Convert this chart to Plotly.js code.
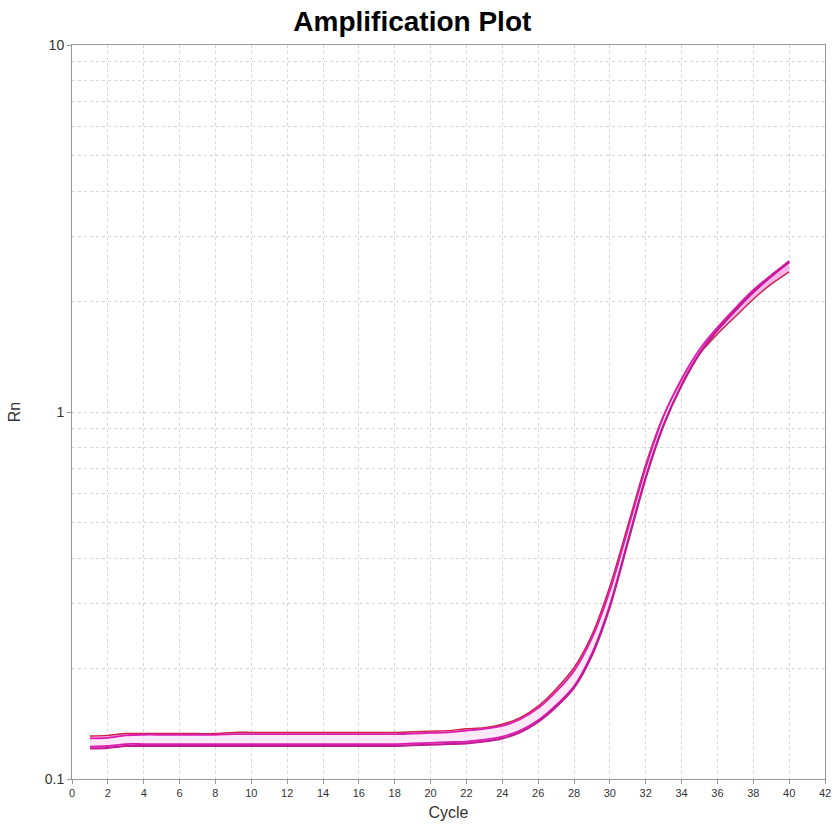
<!DOCTYPE html>
<html>
<head>
<meta charset="utf-8">
<script src="https://cdn.plot.ly/plotly-3.0.1.min.js"></script>
<style>html,body{margin:0;padding:0;background:#fff;}#chart{width:833px;height:834px;}</style>
</head>
<body>
<div id="chart"></div>
<script>
const cycles = [1,2,3,4,5,6,7,8,9,10,11,12,13,14,15,16,17,18,19,20,21,22,23,24,25,26,27,28,29,30,31,32,33,34,35,36,37,38,39,40];

const wellA = [0.131,0.1315,0.133,0.133,0.133,0.133,0.133,0.133,0.134,0.134,0.134,0.134,0.134,0.134,0.134,0.134,0.134,0.134,0.1345,0.135,0.1355,0.137,0.138,0.141,0.147,0.158,0.176,0.201,0.247,0.335,0.49,0.72,0.98,1.21,1.44,1.63,1.82,2.03,2.23,2.41];
const wellB = [0.129,0.1295,0.1315,0.132,0.132,0.132,0.132,0.132,0.1325,0.1325,0.1325,0.1325,0.1325,0.1325,0.1325,0.1325,0.1325,0.1325,0.133,0.1335,0.134,0.1355,0.137,0.1395,0.1455,0.156,0.173,0.197,0.242,0.326,0.478,0.705,0.975,1.23,1.48,1.70,1.92,2.15,2.36,2.57];
const wellC = [0.1225,0.123,0.1245,0.1245,0.1245,0.1245,0.1245,0.1245,0.1245,0.1245,0.1245,0.1245,0.1245,0.1245,0.1245,0.1245,0.1245,0.1245,0.125,0.1255,0.126,0.1265,0.128,0.1305,0.1355,0.1445,0.159,0.179,0.22,0.298,0.445,0.665,0.925,1.185,1.445,1.675,1.895,2.13,2.35,2.58];
const wellD = [0.121,0.1215,0.123,0.123,0.123,0.123,0.123,0.123,0.123,0.123,0.123,0.123,0.123,0.123,0.123,0.123,0.123,0.123,0.1235,0.124,0.1245,0.125,0.1265,0.129,0.134,0.143,0.157,0.177,0.217,0.294,0.44,0.66,0.92,1.18,1.44,1.67,1.89,2.12,2.34,2.56];

const xTicks = [0,2,4,6,8,10,12,14,16,18,20,22,24,26,28,30,32,34,36,38,40,42];
const yTicks = [0.1,1,10];
const yTickText = ['0.1','1','10'];
const yMinor = [0.2,0.3,0.4,0.5,0.6,0.7,0.8,0.9,2,3,4,5,6,7,8,9];

const magenta = '#dc1cae';
const pinkFill = 'rgba(246,160,234,0.8)';
const palePink = 'rgba(252,218,247,0.6)';

const traces = [
  {x: cycles, y: wellA, mode: 'lines', line: {color: '#cc2244', width: 1.4, shape: 'spline', smoothing: 0.8}, hoverinfo: 'skip'},
  {x: cycles, y: wellB, mode: 'lines', line: {color: magenta, width: 1.8, shape: 'spline', smoothing: 0.8}, fill: 'tonexty', fillcolor: pinkFill, hoverinfo: 'skip'},
  {x: cycles, y: wellC, mode: 'lines', line: {color: magenta, width: 1.8, shape: 'spline', smoothing: 0.8}, fill: 'tonexty', fillcolor: palePink, hoverinfo: 'skip'},
  {x: cycles, y: wellD, mode: 'lines', line: {color: '#c01a92', width: 2, shape: 'spline', smoothing: 0.8}, fill: 'tonexty', fillcolor: pinkFill, hoverinfo: 'skip'}
];

const layout = {
  width: 833, height: 834,
  margin: {l: 72, r: 8, t: 45, b: 55},
  paper_bgcolor: '#ffffff', plot_bgcolor: '#ffffff',
  showlegend: false,
  font: {family: 'Liberation Sans, Arial, sans-serif', color: '#333'},
  title: {text: '<b>Amplification Plot</b>', x: 0.495, xanchor: 'center', yref: 'container', y: 0.975, yanchor: 'middle',
          font: {size: 28, color: '#000', family: 'Liberation Sans, Arial, sans-serif'}},
  xaxis: {
    range: [0, 42], tickvals: xTicks, ticktext: xTicks.map(String),
    showgrid: true, gridcolor: '#d6d6d6', griddash: '3px,3px', gridwidth: 1,
    zeroline: false, showline: true, linecolor: '#999', linewidth: 1, mirror: true,
    ticks: 'outside', ticklen: 4, tickcolor: '#999',
    tickfont: {size: 11, color: '#333'},
    title: {text: 'Cycle', font: {size: 16, color: '#333'}, standoff: 8}
  },
  yaxis: {
    type: 'log', range: [-1, 1], tickvals: yTicks, ticktext: yTickText,
    showgrid: true, gridcolor: '#d6d6d6', griddash: '3px,3px', gridwidth: 1,
    minor: {tickvals: yMinor, showgrid: true, gridcolor: '#d6d6d6', griddash: '3px,3px', ticks: ''},
    zeroline: false, showline: true, linecolor: '#999', linewidth: 1, mirror: true,
    ticks: 'outside', ticklen: 4, tickcolor: '#999',
    tickfont: {size: 14, color: '#333'},
    title: {text: 'Rn', font: {size: 16, color: '#333'}, standoff: 20}
  }
};

Plotly.newPlot('chart', traces, layout, {displayModeBar: false, staticPlot: true});
</script>
</body>
</html>
